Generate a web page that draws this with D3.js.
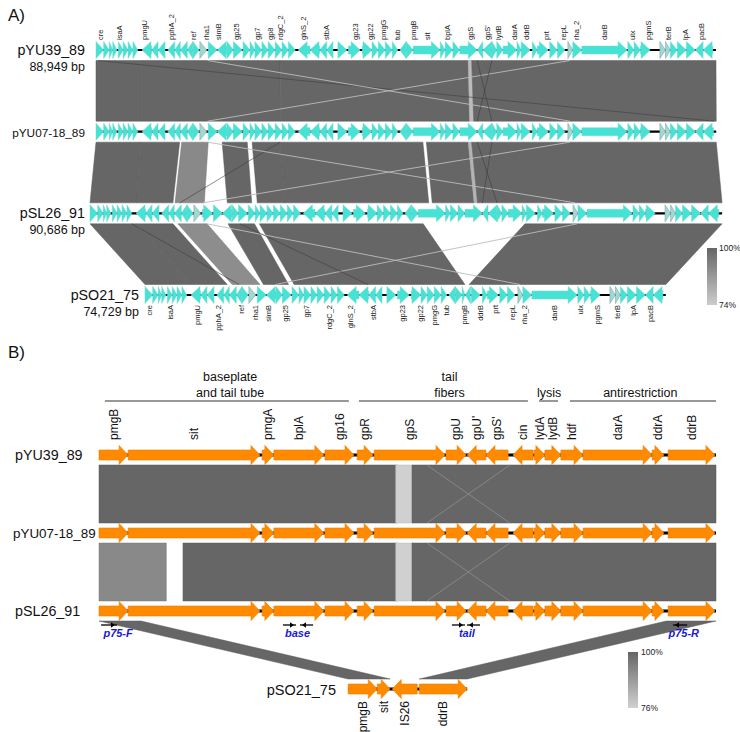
<!DOCTYPE html>
<html><head><meta charset="utf-8">
<script src="https://cdn.jsdelivr.net/npm/d3@7"></script>
<style>body{margin:0;background:#fff} svg{display:block}</style>
</head><body><svg id="c" width="740" height="732"></svg>
<script>
// ================= PANEL A DATA (kb, each plasmid's own coordinates) =================
const plasmidsA = ["pYU39_89", "pYU07-18_89", "pSL26_91", "pSO21_75"];
const lengthsA = [88.949, 88.988, 90.686, 74.729];
const sizeLabelsA = ["88,949 bp", "", "90,686 bp", "74,729 bp"];

// [start, end, strand, kind]
const genesA_pYU39 = [[0.0,1.1,1],[1.1,1.9,1],[1.9,2.4,1],[2.4,3.0,1],[3.2,3.9,1],[3.9,4.6,1],[4.6,5.3,1],[5.3,6.0,1],
[6.6,8.0,-1],[8.0,8.9,-1],[8.9,9.9,-1],[10.3,11.3,-1],[11.3,12.1,-1],[12.1,13.1,-1],[13.1,13.9,-1],
[13.9,14.8,1],[14.9,15.9,1,"g"],[16.1,17.4,1],[17.4,18.8,-1],[18.8,19.7,1],[19.7,21.0,1],[21.1,22.1,1],[22.1,22.8,1],[22.8,23.8,1],[23.8,24.7,1],[24.7,25.7,1],[25.7,26.7,1],[26.7,27.6,1],[27.6,28.6,1],
[29.0,30.7,-1],[30.7,32.1,-1],[32.1,33.1,-1],[33.1,34.0,-1],
[34.7,36.0,1],[36.2,37.9,1],[38.2,39.6,1],[39.6,40.5,1],[40.5,41.5,1],[41.5,42.5,1],[42.5,43.3,1],
[43.6,44.5,-1],[44.5,45.5,1],[45.5,49.4,1],[49.4,50.1,1],[50.1,51.2,1],[51.2,52.2,1],[52.2,54.7,1],
[54.7,55.5,-1],[55.5,56.8,-1],[56.8,57.5,1],[57.5,58.4,1],[58.4,60.4,1],[60.4,61.0,1],[61.0,62.3,1],
[62.6,63.3,1],[63.3,64.9,1],[65.1,66.2,1],[66.2,67.3,1],[67.7,68.4,1,"g"],[68.4,69.7,1],[69.7,76.2,1],
[76.3,77.2,1],[77.2,78.1,1],[78.1,79.5,1],[80.9,81.7,1,"g"],[81.7,82.4,1,"g"],[82.4,83.4,1],[83.4,84.7,1],[84.7,86.0,1],[86.0,87.1,-1],[87.1,88.5,-1]];

const genesA_pYU07 = [[0.0,1.1,1],[1.1,1.9,1],[1.9,2.4,1],[2.4,3.0,1],[3.2,3.9,1],[3.9,4.6,1],[4.6,5.3,1],[5.3,6.0,1],
[6.6,8.0,-1],[8.0,8.9,-1],[8.9,9.9,-1],[10.3,11.3,-1],[11.3,12.1,-1],[12.1,13.1,-1],[13.1,13.9,-1],
[13.9,14.8,1],[14.9,15.9,1,"g"],[16.1,17.4,1],[17.4,18.8,-1],[18.8,19.7,1],[19.7,21.0,1],[21.1,22.1,1],[22.1,22.8,1],[22.8,23.8,1],[23.8,24.7,1],[24.7,25.7,1],[25.7,26.7,1],[26.7,27.6,1],[27.6,28.6,1],
[29.0,30.7,-1],[30.7,32.1,-1],[32.1,33.1,-1],[33.1,34.0,-1],
[34.7,36.0,1],[36.2,37.9,1],[38.2,39.6,1],[39.6,40.5,1],[40.5,41.5,1],[41.5,42.5,1],[42.5,43.3,1],
[43.6,44.5,-1],[44.5,45.5,1],[45.5,49.4,1],[49.4,50.1,1],[50.1,51.2,1],[51.2,52.2,1],[52.2,54.7,1],
[54.7,55.5,-1],[55.5,56.8,-1],[56.8,57.5,1],[57.5,58.4,1],[58.4,60.4,1],[60.4,61.0,1],[61.0,62.3,1],
[62.6,63.3,1],[63.3,64.9,1],[65.1,66.2,1],[66.2,67.3,1],[67.7,68.4,1,"g"],[68.4,69.7,1],[69.7,76.2,1],
[76.3,77.2,1],[77.2,78.1,1],[78.1,79.5,1],[80.9,81.7,1,"g"],[81.7,82.4,1,"g"],[82.4,83.4,1],[83.4,84.7,1],[84.7,86.0,1],[86.0,87.1,-1],[87.1,88.6,-1]];

const genesA_pSL26 = [[0.0,1.1,1],[1.1,1.9,1],[1.9,2.4,1],[2.4,3.0,1],[3.2,3.9,1],[3.9,4.6,1],[4.6,5.3,1],[5.3,6.0,1],
[6.6,8.0,-1],[8.0,8.9,-1],[8.9,9.9,-1],[10.3,11.3,-1],[11.3,12.1,-1],[12.1,13.1,-1],[13.1,13.9,-1],
[13.9,14.8,1],[14.9,15.9,1,"g"],[16.1,17.6,1],
[17.7,19.0,1],[19.0,20.4,-1],[20.4,21.3,1],[21.3,22.6,1],[22.7,23.7,1],[23.7,24.4,1],[24.4,25.4,1],[25.4,26.3,1],[26.3,27.3,1],[27.3,28.3,1],[28.3,29.2,1],[29.2,30.2,1],
[30.6,32.3,-1],[32.3,33.7,-1],[33.7,34.7,-1],[34.7,35.6,-1],
[36.3,37.6,1],[37.8,39.5,1],[39.8,41.2,1],[41.2,42.1,1],[42.1,43.1,1],[43.1,44.1,1],[44.1,44.9,1],
[45.2,46.1,-1],[46.1,47.1,1],[47.1,51.0,1],[51.0,51.7,1],[51.7,52.8,1],[52.8,53.8,1],[53.8,56.3,1],
[56.3,57.1,-1],[57.1,58.4,-1],[58.4,59.1,1],[59.1,60.0,1],[60.0,62.0,1],[62.0,62.6,1],[62.6,63.9,1],
[64.2,64.9,1],[64.9,66.5,1],[66.7,67.8,1],[67.8,68.9,1],[69.3,70.0,1,"g"],[70.0,71.3,1],[71.3,77.8,1],
[77.9,78.8,1],[78.8,79.7,1],[79.7,81.1,1],[82.5,83.3,1,"g"],[83.3,84.0,1,"g"],[84.0,85.0,1],[85.0,86.3,1],[86.3,87.6,1],[87.6,88.7,-1],[88.7,90.2,-1]];

const genesA_pSO21 = [[0.0,1.1,1],[1.1,1.9,1],[1.9,2.4,1],[2.4,3.0,1],[3.2,3.9,1],[3.9,4.6,1],[4.6,5.3,1],[5.3,6.0,1],
[6.6,8.0,-1],[8.0,8.9,-1],[8.9,9.9,-1],[10.3,11.3,-1],[11.3,12.1,-1],[12.1,13.1,-1],[13.1,13.9,-1],
[13.9,14.8,1],[14.9,15.9,1,"g"],[16.1,17.4,1],[17.4,18.8,-1],[18.8,19.7,1],[19.7,21.0,1],[21.1,22.1,1],[22.1,22.8,1],[22.8,23.8,1],[23.8,24.7,1],[24.7,25.7,1],[25.7,26.7,1],[26.7,27.6,1],[27.6,28.6,1],
[29.0,30.7,-1],[30.7,32.1,-1],[32.1,33.1,-1],[33.1,34.0,-1],
[34.7,36.0,1],[36.2,37.9,1],[38.2,39.6,1],[39.6,40.5,1],[40.5,41.5,1],[41.5,42.5,1],[42.5,43.3,1],
[43.6,44.5,-1],[44.5,45.5,1],[45.5,45.9,1],[45.95,46.7,-1],
[46.8,48.1,1],[48.4,49.1,1],[49.1,50.7,1],[50.9,52.0,1],[52.0,53.1,1],[53.5,54.2,1,"g"],[54.2,55.5,1],[55.5,62.0,1],
[62.1,63.0,1],[63.0,63.9,1],[63.9,65.3,1],[66.7,67.5,1,"g"],[67.5,68.2,1,"g"],[68.2,69.2,1],[69.2,70.5,1],[70.5,71.8,1],[71.8,72.9,-1],[72.9,74.3,-1]];

// gene labels [name, kb]
const labelsA_pYU39 = [["cre",0.7],["isaA",3.4],["pmgU",6.9],["pphA_2",10.8],["ref",13.9],["rha1",15.8],["simB",17.5],["gp25",20.2],["gp7",23.2],["gp8",25.0],["rdgC_2",26.4],["glnS_2",29.8],["stbA",33.0],["gp23",37.2],["gp22",39.3],["pmgG",41.3],["tub",43.2],["pmgB",45.5],["sit",47.6],["bplA",50.4],["gpS",53.7],["gpS'",56.1],["lydB",57.8],["darA",60.0],["ddrB",61.8],["prt",64.6],["repL",67.0],["rha_2",68.9],["darB",73.0],["ulx",76.9],["pgmS",79.2],["terB",82.1],["lpA",84.5],["pacB",86.8]];
const labelsA_pSO21 = [["cre",0.7],["isaA",3.6],["pmgU",7.5],["pphA_2",10.5],["ref",13.8],["rha1",15.8],["simB",17.7],["gp25",20.2],["gp7",23.2],["rdgC_2",26.5],["glnS_2",29.4],["stbA",32.7],["gp23",36.9],["gp22",39.5],["pmgG",41.5],["tub",43.3],["pmgB",45.8],["ddrB",48.1],["prt",50.2],["repL",52.7],["rha_2",54.4],["darB",58.7],["ulx",62.4],["pgmS",64.9],["terB",67.8],["lpA",70.1],["pacB",72.5]];

// alignment blocks between consecutive tracks [topStart, topEnd, botStart, botEnd, identity%]
const blocksA_1_2 = [[0,6.7,0,6.7,99.9],[6.7,26.4,6.7,26.5,99.9],[26.4,53.4,26.5,53.6,99.9],[53.4,53.9,53.6,54.2,78],[53.9,88.949,54.2,88.988,99.9]];
const blocksA_2_3 = [[0,6.3,0,6.7,99.9],[6.3,12.0,6.7,11.9,99.9],[12.3,16.1,12.2,16.4,91],[18.1,21.7,19.7,23.2,99.9],[22.4,26.4,24.0,28.0,99.9],[26.4,46.9,28.0,48.6,99.9],[47.4,53.4,49.1,55.1,99.9],[53.4,53.9,55.1,55.6,80],[53.9,88.988,55.6,90.686,99.9]];
const blocksA_3_4 = [[0,6.7,0,6.5,99.9],[6.7,11.9,6.5,11.8,99.9],[12.6,16.8,12.5,16.5,90],[19.8,23.6,17.0,20.6,99.9],[24.3,47.8,21.4,45.9,99.9],[62.4,90.686,46.5,74.729,99.9]];
// small hits drawn as thin lines [topKb, botKb, identity%]
const hitsA_1_2 = [[0.3,88.7,99],[16.0,68.0,82],[68.0,16.0,82],[54.7,56.8,97],[56.8,54.7,97]];
const hitsA_2_3 = [[26.4,12.9,99],[16.0,69.6,82],[68.0,16.2,82],[54.7,58.4,97],[56.8,56.3,97]];
const hitsA_3_4 = [[16.8,53.8,82],[69.9,18.7,82],[6.0,13.5,99],[21.5,32.0,99]];
const legendA = [100, 74];

// ================= PANEL B DATA (kb from pmgB start) =================
const plasmidsB = ["pYU39_89", "pYU07-18_89", "pSL26_91", "pSO21_75"];
const regionLenB = [17.78, 17.78, 17.78, 3.43];
// [name, start, end, strand]
const genesB_main = [["pmgB",0,0.84,1],["sit",0.84,4.64,1],["pmgA",4.70,5.04,1],["bplA",5.04,6.48,1],["gp16",6.51,7.35,1],["gpR",7.44,7.90,1],["gpS",7.93,9.97,1],["gpU",10.0,10.58,1],["gpU'",10.61,11.15,-1],["gpS'",11.15,11.79,-1],["cin",11.93,12.51,-1],["lydA",12.54,12.85,1],["lydB",12.85,13.31,1],["hdf",13.31,13.95,1],["darA",13.95,15.94,1],["ddrA",15.94,16.28,1],["ddrB",16.40,17.75,1]];
const genesB_pSO21 = [["pmgB",0,0.84,1],["sit",0.84,1.21,1],["IS26",1.27,1.99,-1],["ddrB",2.05,3.43,1]];
const blocksB_1_2 = [[0,8.6,0,8.6,99.9],[8.55,9.05,8.55,9.05,76],[9.02,17.78,9.02,17.78,99.9]];
const blocksB_2_3 = [[0,1.94,0,1.94,92],[2.42,8.6,2.42,8.6,99.9],[8.55,9.05,8.55,9.05,76],[9.02,17.78,9.02,17.78,99.9]];
const blocksB_3_4 = [[0,1.21,0,1.21,99.9],[16.35,17.78,2.05,3.43,99.9]];
const hitsB = [[9.45,11.84,90],[11.84,9.45,90]];
// sections [label lines, start kb, end kb, text centre kb]
const sectionsB = [[["baseplate","and tail tube"],0.17,7.2,3.78],[["tail","fibers"],7.49,12.36,10.1],[["lysis"],12.68,13.23,12.97],[["antirestriction"],13.57,17.78,15.6]];
// primers on pSL26_91: [start kb, end kb, direction]
const primerArrows = [[0.06,0.46,1],[5.3,5.62,1],[5.85,6.17,-1],[10.17,10.49,1],[10.66,10.98,-1],[16.6,16.95,-1]];
const primerLabels = [["p75-F",0.55],["base",5.72],["tail",10.6],["p75-R",16.85]];
const legendB = [100, 76];

// ================= DRAWING =================
const FONT = '"Liberation Sans", Arial, Helvetica, sans-serif';
const svg = d3.select("#c").style("font-family", FONT);

function arrowPath(x0, x1, y, strand, bh, hh, hlMax) {
  const hl = Math.min(hlMax, x1 - x0);
  if (strand > 0) {
    const xb = x1 - hl;
    return `M${x0},${y-bh}L${xb},${y-bh}L${xb},${y-hh}L${x1},${y}L${xb},${y+hh}L${xb},${y+bh}L${x0},${y+bh}Z`;
  }
  const xb = x0 + hl;
  return `M${x1},${y-bh}L${xb},${y-bh}L${xb},${y-hh}L${x0},${y}L${xb},${y+hh}L${xb},${y+bh}L${x1},${y+bh}Z`;
}

// ---------- Panel A ----------
const colorA = d3.scaleLinear().domain([74, 100]).range(["#cccccc", "#666666"]).clamp(true);
const xA = d3.scaleLinear().domain([0, 90.686]).range([90, 90 + 90.686 * 6.97]);
const offA = [0.86, 0.86, 0, 7.89];
const yA = d3.scalePoint().domain(plasmidsA).range([50, 295]);
const posA = (t, kb) => xA(kb + offA[t]);
const genesA = [genesA_pYU39, genesA_pYU07, genesA_pSL26, genesA_pSO21];
const gA = svg.append("g");

function drawBand(g, blocks, hits, tTop, tBot, pos, yTop, yBot, color, lineColor) {
  g.selectAll(null).data(blocks).join("path")
    .attr("d", b => `M${pos(tTop,b[0])},${yTop}L${pos(tTop,b[1])},${yTop}L${pos(tBot,b[3])},${yBot}L${pos(tBot,b[2])},${yBot}Z`)
    .attr("fill", b => color(b[4]))
    .attr("stroke", b => d3.color(color(b[4])).darker(0.35))
    .attr("stroke-width", 0.5);
  g.selectAll(null).data(hits).join("line")
    .attr("x1", h => pos(tTop, h[0])).attr("y1", yTop)
    .attr("x2", h => pos(tBot, h[1])).attr("y2", yBot)
    .attr("stroke", h => lineColor ? lineColor : (h[2] >= 95 ? "#3e3e3e" : color(h[2] - 4)))
    .attr("stroke-width", h => h[2] >= 95 ? 0.6 : 0.9);
}
const bandsA = [[blocksA_1_2, hitsA_1_2], [blocksA_2_3, hitsA_2_3], [blocksA_3_4, hitsA_3_4]];
bandsA.forEach((b, i) => {
  drawBand(gA, b[0], b[1], i, i + 1, posA, yA(plasmidsA[i]) + 10.5, yA(plasmidsA[i + 1]) - 10.5, colorA);
});

plasmidsA.forEach((name, t) => {
  const y = yA(name);
  gA.append("line").attr("x1", posA(t, 0)).attr("x2", posA(t, lengthsA[t]))
    .attr("y1", y).attr("y2", y).attr("stroke", "#000").attr("stroke-width", 2.2);
  gA.selectAll(null).data(genesA[t]).join("path")
    .attr("d", d => arrowPath(posA(t, d[0]), posA(t, d[1]), y, d[2], 4, 8.5, 9))
    .attr("fill", d => d[3] === "g" ? "#9fd9d3" : "#45e3d5")
    .attr("stroke", d => d[3] === "g" ? "#7a9f9c" : "#7fd6cf")
    .attr("stroke-width", 0.5);
  const lx = t === 3 ? 139 : 85;
  gA.append("text").attr("x", lx).attr("y", y + 5).attr("text-anchor", "end")
    .attr("font-size", t === 1 ? 11.8 : 14.3).attr("fill", "#111").text(name);
  if (sizeLabelsA[t]) gA.append("text").attr("x", lx).attr("y", y + 21).attr("text-anchor", "end")
    .attr("font-size", 12.5).attr("fill", "#111").text(sizeLabelsA[t]);
});
// gene labels
gA.selectAll(null).data(labelsA_pYU39).join("text")
  .attr("transform", d => `translate(${posA(0, d[1])},${yA(plasmidsA[0]) - 10}) rotate(-90)`)
  .attr("dy", "0.35em").attr("font-size", 7.5).attr("fill", "#222").text(d => d[0]);
gA.selectAll(null).data(labelsA_pSO21).join("text")
  .attr("transform", d => `translate(${posA(3, d[1])},${yA(plasmidsA[3]) + 10}) rotate(-90)`)
  .attr("dy", "0.35em").attr("text-anchor", "end").attr("font-size", 7.5).attr("fill", "#222").text(d => d[0]);

// legends
const defs = svg.append("defs");
function gradient(id, c1, c2) {
  const lg = defs.append("linearGradient").attr("id", id).attr("x1", 0).attr("y1", 0).attr("x2", 0).attr("y2", 1);
  lg.append("stop").attr("offset", 0).attr("stop-color", c1);
  lg.append("stop").attr("offset", 1).attr("stop-color", c2);
}
gradient("gA", colorA(legendA[0]), colorA(legendA[1]));
const legYA = d3.scaleLinear().domain(legendA).range([248, 305]);
gA.append("rect").attr("x", 707).attr("y", legYA(legendA[0])).attr("width", 10)
  .attr("height", legYA(legendA[1]) - legYA(legendA[0])).attr("fill", "url(#gA)");
legendA.forEach(v => gA.append("text").attr("x", 719).attr("y", legYA(v) + 3).attr("font-size", 8.5)
  .attr("fill", "#222").text(v + "%"));

svg.append("text").attr("x", 8).attr("y", 21).attr("font-size", 17).attr("fill", "#111").text("A)");

// ---------- Panel B ----------
const colorB = d3.scaleLinear().domain([76, 100]).range(["#d0d0d0", "#666666"]).clamp(true);
const xB = d3.scaleLinear().domain([0, 17.78]).range([99, 716]);
const offB = [0, 0, 0, 7.18];
const yB = d3.scalePoint().domain(plasmidsB).range([455, 689]);
const posB = (t, kb) => xB(kb + offB[t]);
const gB = svg.append("g");
const bandsB = [blocksB_1_2, blocksB_2_3, blocksB_3_4];
bandsB.forEach((bl, i) => {
  drawBand(gB, bl, i < 2 ? hitsB : [], i, i + 1, posB, yB(plasmidsB[i]) + 10, yB(plasmidsB[i + 1]) - 10, colorB, "#8a8a8a");
});

const genesB = [genesB_main, genesB_main, genesB_main, genesB_pSO21];
plasmidsB.forEach((name, t) => {
  const y = yB(name);
  gB.append("line").attr("x1", posB(t, 0)).attr("x2", posB(t, regionLenB[t]))
    .attr("y1", y).attr("y2", y).attr("stroke", "#000").attr("stroke-width", 3);
  gB.selectAll(null).data(genesB[t]).join("path")
    .attr("d", d => arrowPath(posB(t, d[1]), posB(t, d[2]), y, d[3], 5, 9.5, 9))
    .attr("fill", "#ff8a00").attr("stroke", "#f07d00").attr("stroke-width", 0.6);
  if (t < 3) gB.append("text").attr("x", t === 1 ? 13 : 15).attr("y", y + 5)
    .attr("font-size", t === 1 ? 13.4 : 14.3).attr("fill", "#111").text(name);
  else gB.append("text").attr("x", 336).attr("y", y + 6).attr("text-anchor", "end").attr("font-size", 14.5).attr("fill", "#111").text(name);
});
gB.selectAll(null).data(genesB_main).join("text")
  .attr("transform", d => `translate(${posB(0, (d[1] + d[2]) / 2)},${yB(plasmidsB[0]) - 15}) rotate(-90)`)
  .attr("dy", "0.35em").attr("font-size", 12).attr("fill", "#111").text(d => d[0]);
gB.selectAll(null).data(genesB_pSO21).join("text")
  .attr("transform", d => `translate(${posB(3, (d[1] + d[2]) / 2)},${yB(plasmidsB[3]) + 12}) rotate(-90)`)
  .attr("dy", "0.35em").attr("text-anchor", "end").attr("font-size", 12).attr("fill", "#111").text(d => d[0]);

// section headers
sectionsB.forEach(s => {
  gB.append("line").attr("x1", xB(s[1])).attr("x2", xB(s[2])).attr("y1", 401).attr("y2", 401)
    .attr("stroke", "#333").attr("stroke-width", 1);
  s[0].forEach((txt, i) => {
    gB.append("text").attr("x", xB(s[3])).attr("y", 397 - (s[0].length - 1 - i) * 16)
      .attr("text-anchor", "middle").attr("font-size", 12.5).attr("fill", "#111").text(txt);
  });
});

// primers
const yP = yB(plasmidsB[2]) + 14;
const gP = gB.append("g");
primerArrows.forEach(p => {
  const x0 = posB(2, p[0]), x1 = posB(2, p[1]);
  const tip = p[2] > 0 ? x1 : x0, tail = p[2] > 0 ? x0 : x1, d = p[2] > 0 ? -4 : 4;
  gP.append("line").attr("x1", tail).attr("x2", tip - d * 0.5).attr("y1", yP).attr("y2", yP)
    .attr("stroke", "#000").attr("stroke-width", 1.3);
  gP.append("path").attr("d", `M${tip},${yP}L${tip + d},${yP - 2.8}L${tip + d},${yP + 2.8}Z`).attr("fill", "#000");
});
gP.selectAll(null).data(primerLabels).join("text")
  .attr("x", d => posB(2, d[1])).attr("y", yP + 12).attr("text-anchor", "middle")
  .attr("font-size", 11).attr("font-weight", "bold").attr("font-style", "italic")
  .attr("fill", "#1a1ad0").text(d => d[0]);

gradient("gB", colorB(legendB[0]), colorB(legendB[1]));
const legYB = d3.scaleLinear().domain(legendB).range([652, 708]);
gB.append("rect").attr("x", 628).attr("y", legYB(legendB[0])).attr("width", 10)
  .attr("height", legYB(legendB[1]) - legYB(legendB[0])).attr("fill", "url(#gB)");
legendB.forEach(v => gB.append("text").attr("x", 641).attr("y", legYB(v) + 3).attr("font-size", 8.5)
  .attr("fill", "#222").text(v + "%"));

svg.append("text").attr("x", 8).attr("y", 358).attr("font-size", 17).attr("fill", "#111").text("B)");
</script></body></html>
